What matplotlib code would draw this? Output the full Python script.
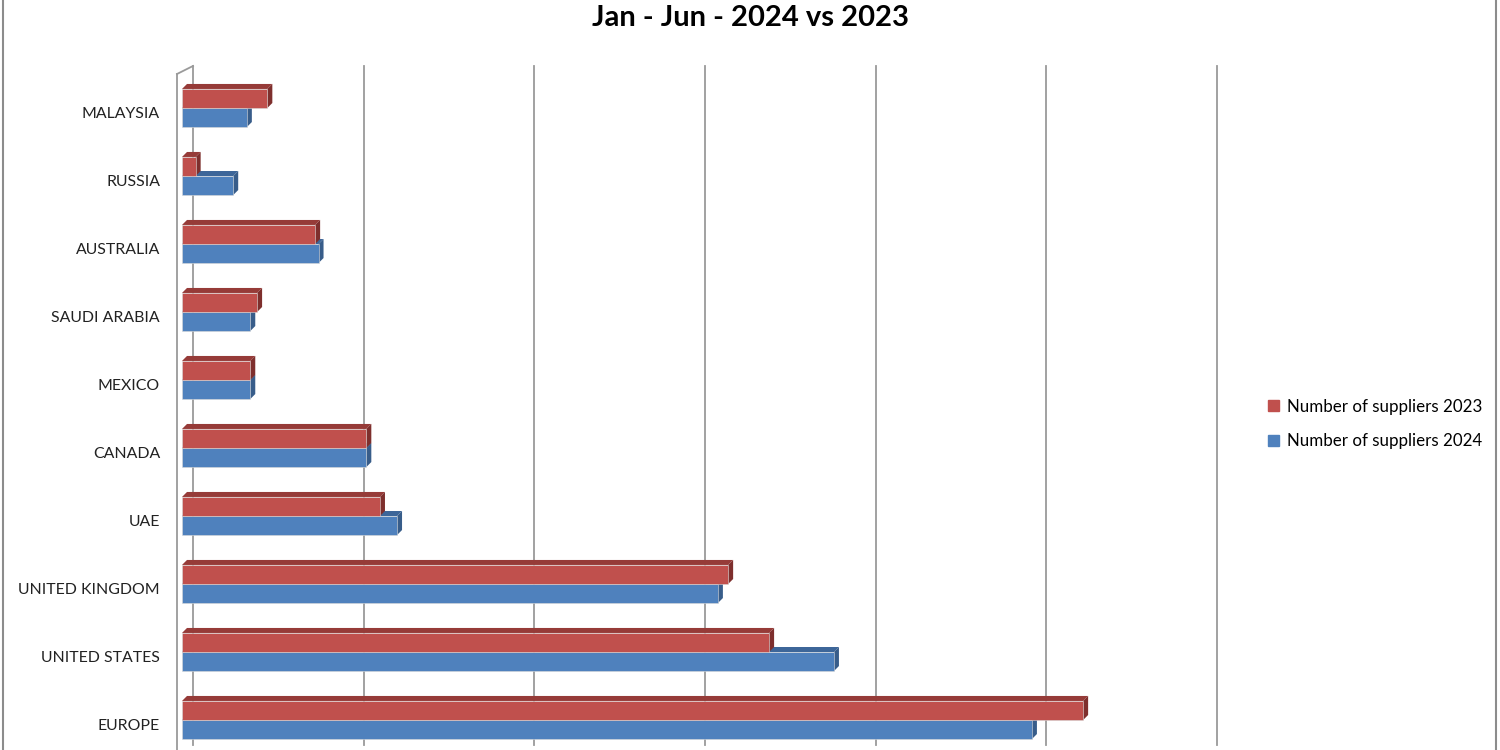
import numpy as np
import matplotlib
matplotlib.use("Agg")
import matplotlib.pyplot as plt
import matplotlib.transforms as mtrans
from matplotlib.patches import Polygon
from matplotlib.lines import Line2D

plt.rcParams['font.family'] = ['Lato', 'DejaVu Sans']

# data (bottom to top)
countries = ["EUROPE", "UNITED STATES", "UNITED KINGDOM", "UAE", "CANADA",
             "MEXICO", "SAUDI ARABIA", "AUSTRALIA", "RUSSIA", "MALAYSIA"]
suppliers_2023 = [264, 172, 160, 58, 54, 20, 22, 39, 4, 25]
suppliers_2024 = [249, 191, 157, 63, 54, 20, 20, 40, 15, 19]
xticks_vals = [0, 50, 100, 150, 200, 250, 300]

title = "Jan - Jun - 2024 vs 2023"
lab23 = "Number of suppliers 2023"
lab24 = "Number of suppliers 2024"

red, red_top, red_side = "#C0504D", "#963B38", "#7E2F2D"
blue, blue_top, blue_side = "#4F81BD", "#3D6699", "#385D8A"
grid_col = "#9A9A9A"

W, H = 1500, 750
fig = plt.figure(figsize=(15, 7.5), dpi=100)
ax = fig.add_axes([182 / W, -4 / H, 1024 / W, 680 / H])
ax.set_xlim(0, 300)
ax.set_ylim(-0.5, 9.5)
for s in ax.spines.values():
    s.set_visible(False)
ax.set_xticks([])
ax.patch.set_alpha(0)

y = np.arange(len(countries))
bh = 0.28

# pixel -> data helpers
p0 = ax.transData.transform((0, 0))
p1 = ax.transData.transform((1, 1))
ux = 1.0 / (p1[0] - p0[0])
uy = 1.0 / (p1[1] - p0[1])
dx, dy = 5 * ux, 5 * uy

# back wall gridlines (offset into depth)
back = mtrans.blended_transform_factory(ax.transData, ax.transAxes) + \
    mtrans.Affine2D().translate(11, 0)
for v in xticks_vals:
    ax.add_line(Line2D([v, v], [0.0132, 1.0118], transform=back, color=grid_col,
                       lw=1.3, clip_on=False, zorder=0))
# left wall front edge + top slant
ax.add_line(Line2D([-5 * ux, -5 * ux], [-0.02, 1.0], transform=ax.get_xaxis_transform(),
                   color=grid_col, lw=1.3, clip_on=False, zorder=0))
ax.add_line(Line2D([-5 * ux, 11 * ux], [1.0, 1.0118], transform=ax.get_xaxis_transform(),
                   color=grid_col, lw=1.3, clip_on=False, zorder=0))


def bar3d(vals, y0, front, top, side, z):
    ax.barh(y0 + bh / 2, vals, height=bh, color=front, edgecolor="#D9D9D9",
            linewidth=0.4, zorder=z + 0.5)
    for v, yy in zip(vals, y0):
        t = yy + bh
        ax.add_patch(Polygon([(0, t), (v, t), (v + dx, t + dy), (dx, t + dy)],
                             closed=True, facecolor=top, edgecolor="none", zorder=z))
        ax.add_patch(Polygon([(v, yy), (v, t), (v + dx, t + dy), (v + dx, yy + dy)],
                             closed=True, facecolor=side, edgecolor="none", zorder=z))


bar3d(suppliers_2024, y - bh, blue, blue_top, blue_side, 2)
bar3d(suppliers_2023, y, red, red_top, red_side, 3)

ax.set_yticks(y)
ax.set_yticklabels(countries, fontsize=11.4, color="#222222")
ax.tick_params(axis="y", length=0, pad=15.8)
for lbl in ax.get_yticklabels():
    lbl.set_transform(lbl.get_transform() + mtrans.Affine2D().translate(0, -5))

fig.text(0.5, 1 - 18 / H, title, ha="center", va="center", fontsize=21,
         fontweight="bold")

handles = [plt.Rectangle((0, 0), 1, 1, color=red), plt.Rectangle((0, 0), 1, 1, color=blue)]
fig.legend(handles, [lab23, lab24], loc="center left",
           bbox_to_anchor=(1253 / W, 1 - 424 / H), frameon=False, fontsize=12.2,
           handlelength=0.65, handleheight=0.65, handletextpad=0.45, labelspacing=1.1)

# chart border
for xb in (3, 1496):
    fig.add_artist(Line2D([xb / W, xb / W], [0, 1], color="#8C8C8C", lw=1.5))

fig.savefig("out.png", dpi=100)
